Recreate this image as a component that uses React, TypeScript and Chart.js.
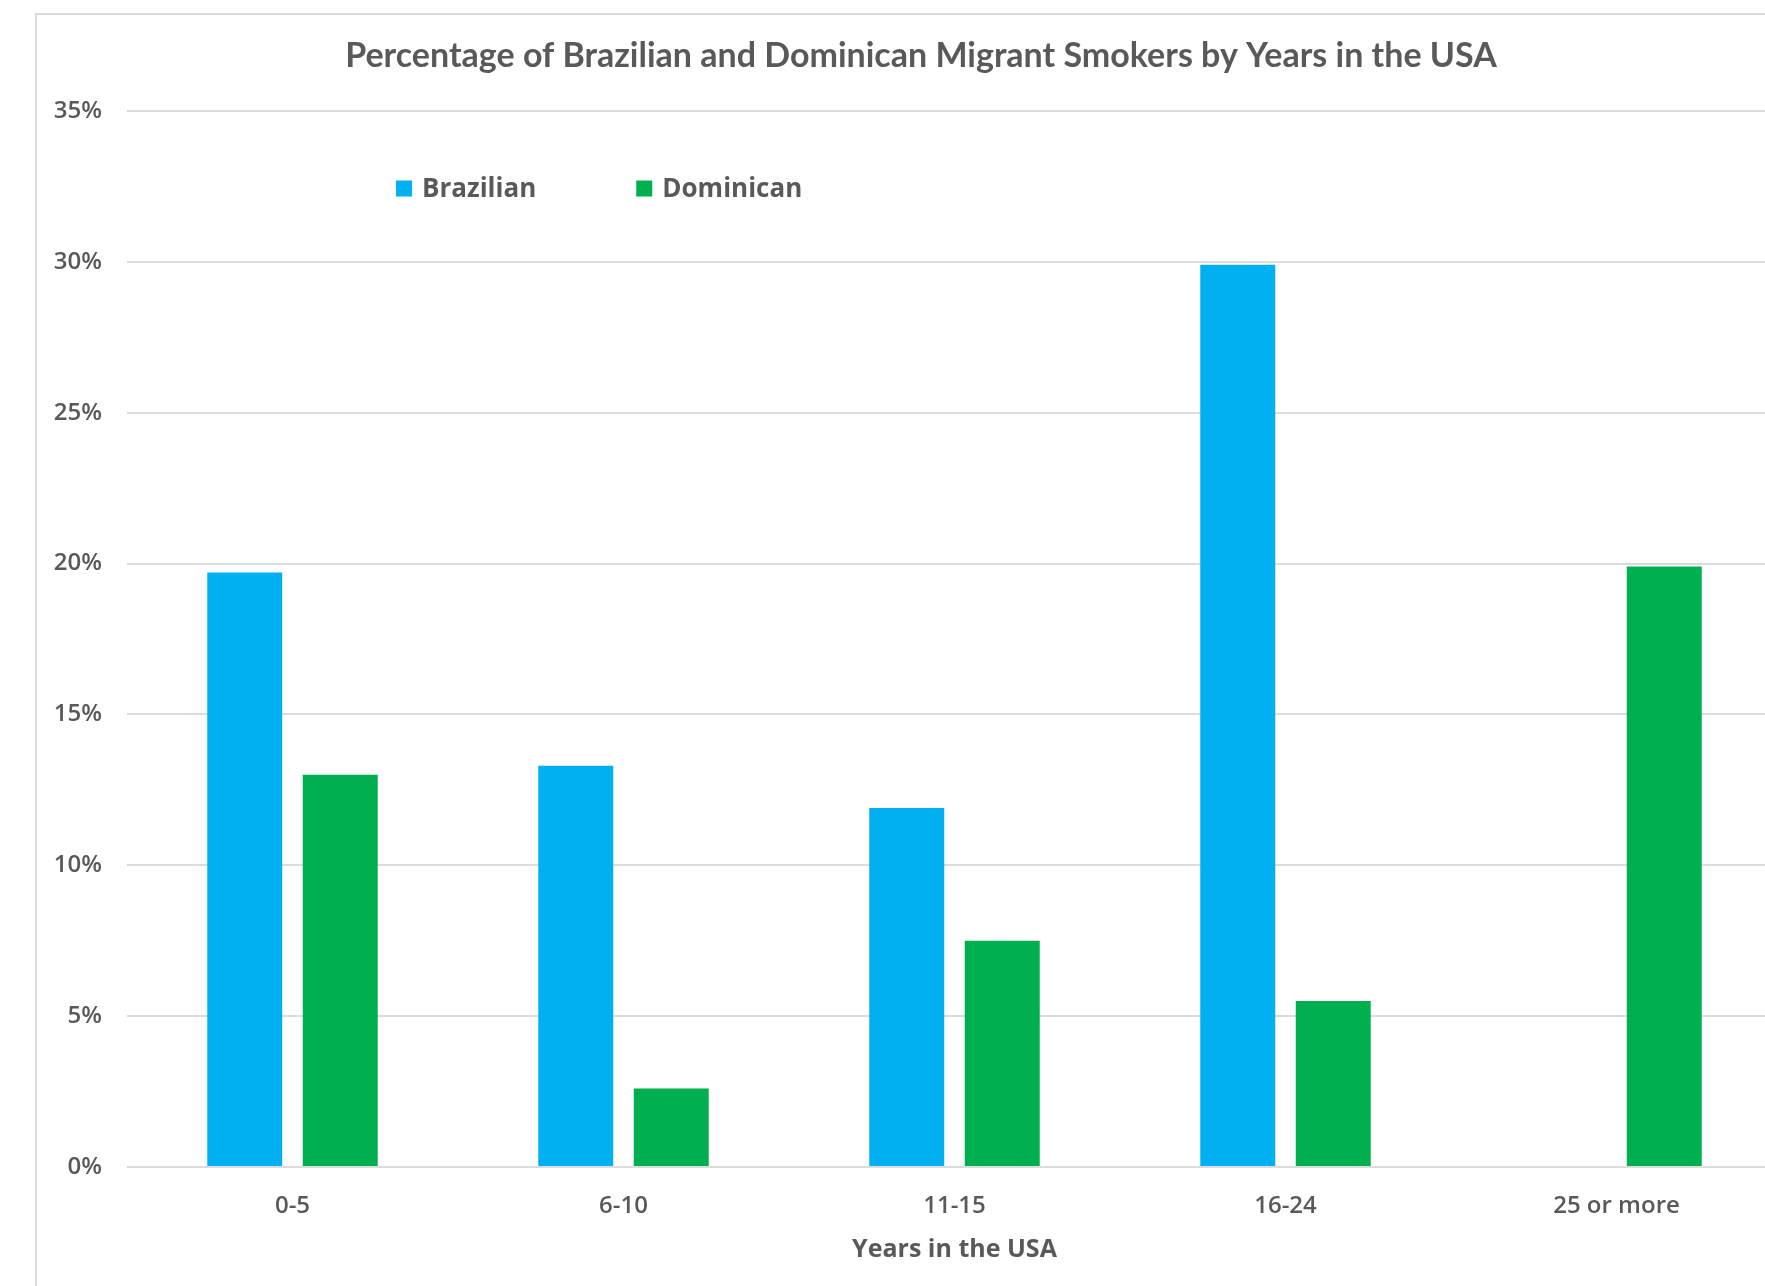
import React, { useEffect, useRef } from "react";
import { Chart, registerables } from "chart.js";

Chart.register(...registerables);

const categories: string[] = ["0-5", "6-10", "11-15", "16-24", "25 or more"];
const seriesNames: string[] = ["Brazilian", "Dominican"];
const brazilianValues: (number | null)[] = [19.7, 13.3, 11.9, 29.9, null];
const dominicanValues: (number | null)[] = [13.0, 2.6, 7.5, 5.5, 19.9];
const seriesColors: string[] = ["#00B0F0", "#00B050"];
const yMin = 0;
const yMax = 35;
const yStep = 5;
const chartTitle = "Percentage of Brazilian and Dominican Migrant Smokers by Years in the USA";
const xAxisTitle = "Years in the USA";

const TEXT = "#595959";
const GRID = "#DCDCDC";
const FONT = "'Open Sans', 'DejaVu Sans', sans-serif";

const framePlugin = {
  id: "frameAndLegend",
  beforeDraw(chart: any) {
    const ctx = chart.ctx;
    ctx.save();
    ctx.fillStyle = "#ffffff";
    ctx.fillRect(0, 0, chart.width, chart.height);
    ctx.strokeStyle = "#D9D9D9";
    ctx.lineWidth = 2;
    ctx.strokeRect(36, 14, chart.width + 50, chart.height + 50);
    ctx.restore();
  },
  afterDraw(chart: any) {
    const ctx = chart.ctx;
    ctx.save();
    ctx.font = `bold 26px ${FONT}`;
    ctx.textBaseline = "middle";
    ctx.textAlign = "left";
    let x = 396;
    const y = 189.5;
    chart.data.datasets.forEach((ds: any) => {
      ctx.fillStyle = ds.backgroundColor;
      ctx.fillRect(x, y - 9, 16, 16);
      ctx.fillStyle = TEXT;
      const tx = x + 26;
      ctx.fillText(ds.label, tx, y);
      x = tx + ctx.measureText(ds.label).width + 100;
    });
    ctx.restore();
  },
};

export default function App() {
  const canvasRef = useRef<HTMLCanvasElement | null>(null);

  useEffect(() => {
    const canvas = canvasRef.current;
    if (!canvas) return;
    const chart = new Chart(canvas, {
      type: "bar",
      data: {
        labels: categories,
        datasets: [
          {
            label: seriesNames[0],
            data: brazilianValues,
            backgroundColor: seriesColors[0],
            borderWidth: 0,
            categoryPercentage: 0.577,
            barPercentage: 0.785,
          },
          {
            label: seriesNames[1],
            data: dominicanValues,
            backgroundColor: seriesColors[1],
            borderWidth: 0,
            categoryPercentage: 0.577,
            barPercentage: 0.785,
          },
        ],
      },
      options: {
        responsive: false,
        animation: false,
        layout: { padding: { left: 36, right: 36, top: 0, bottom: 21 } },
        plugins: {
          legend: { display: false },
          tooltip: { enabled: false },
          title: {
            display: true,
            text: chartTitle,
            color: TEXT,
            font: { family: "Lato, 'Open Sans', sans-serif", size: 34, weight: "bold", lineHeight: 1.2 },
            padding: { top: 36, bottom: 34.2 },
          },
        },
        scales: {
          x: {
            grid: { display: false, drawTicks: false },
            border: { display: false },
            ticks: {
              color: TEXT,
              padding: 25,
              font: { family: FONT, size: 24, weight: "600", lineHeight: 1.2 },
            },
            title: {
              display: true,
              text: xAxisTitle,
              color: TEXT,
              padding: { top: 0, bottom: 0 },
              font: { family: FONT, size: 25, weight: "bold", lineHeight: 1.2 },
            },
            afterFit: (s: any) => {
              s.height = 98;
            },
          },
          y: {
            min: yMin,
            max: yMax,
            grid: { color: GRID, lineWidth: 2, drawTicks: false },
            border: { display: false },
            ticks: {
              stepSize: yStep,
              color: TEXT,
              padding: 25,
              font: { family: FONT, size: 24, weight: "600" },
              callback: (v: any) => `${v}%`,
            },
            afterFit: (s: any) => {
              s.width = 91;
            },
          },
          yRight: {
            position: "right",
            display: true,
            grid: { display: false, drawTicks: false },
            border: { display: false },
            ticks: { display: false },
            afterFit: (s: any) => {
              s.width = 24;
            },
          },
        },
      },
      plugins: [framePlugin],
    } as any);
    return () => chart.destroy();
  }, []);

  return (
    <div
      style={{
        position: "fixed",
        left: 0,
        top: 0,
        width: 1765,
        height: 1286,
        overflow: "hidden",
        background: "#fff",
      }}
    >
      <canvas ref={canvasRef} width={1842} height={1286} style={{ display: "block" }} />
    </div>
  );
}
